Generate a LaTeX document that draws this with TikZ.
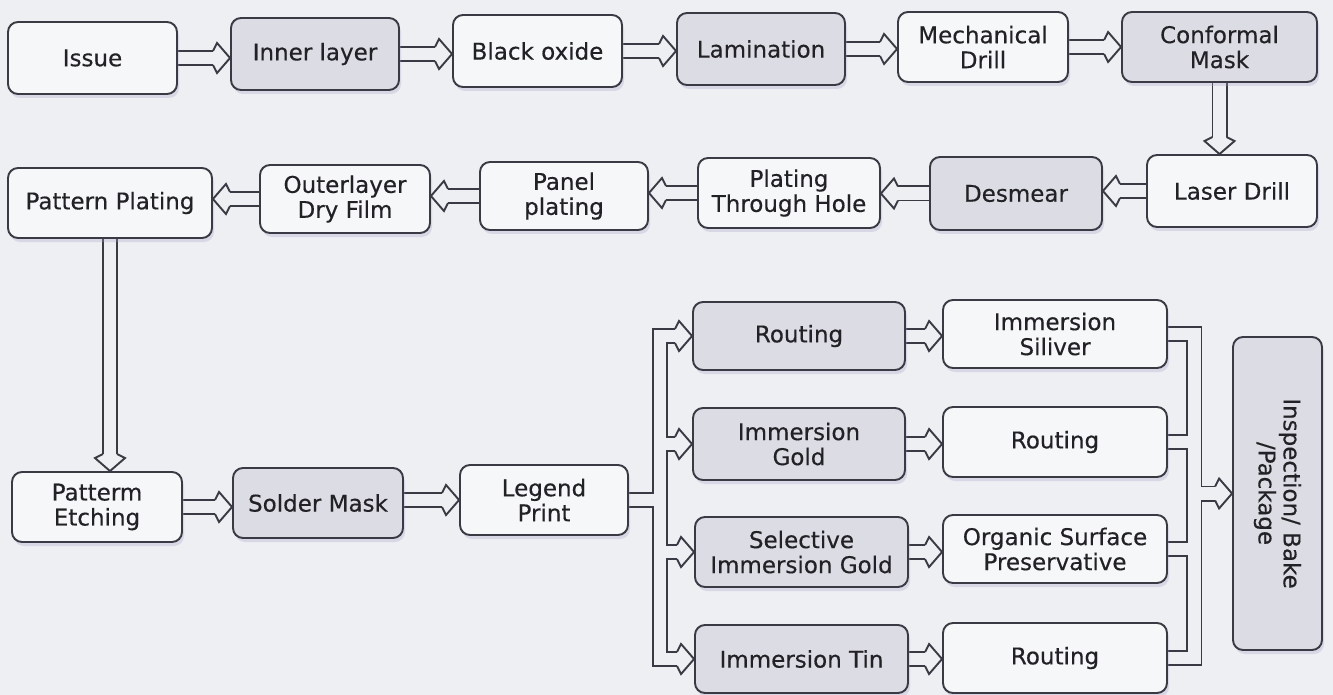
\documentclass[tikz,border=0pt]{standalone}
\usepackage{fontspec}
\setmainfont{DejaVu Sans}
\newfontfamily\boxfont[FakeBold=0.35]{DejaVu Sans}
\usetikzlibrary{calc,shadows}
\pgfdeclarelayer{bgl}\pgfdeclarelayer{pipes}\pgfdeclarelayer{fg}
\pgfsetlayers{bgl,pipes,main,fg}
\definecolor{bgc}{HTML}{EDEFF2}
\definecolor{wf}{HTML}{F6F7F8}
\definecolor{sf}{HTML}{DCDCE5}
\definecolor{lc}{HTML}{3A3A44}
\definecolor{tc}{HTML}{222226}
\definecolor{shc}{HTML}{A8A0C8}
\tikzset{
  box/.style={draw=lc, line width=1.9pt, rounded corners=10pt, align=center, text=tc,
    font=\boxfont\fontsize{23}{25}\selectfont, inner sep=0pt,
    drop shadow={shadow xshift=2pt, shadow yshift=-4pt, fill=shc, opacity=.3}},
  wbox/.style={box, fill=wf},
  sbox/.style={box, fill=sf},
  ahead/.pic={
    \fill[bgc] (-17,-7) -- (-13,-15) -- (0,0) -- (-13,15) -- (-17,7) -- cycle;
    \draw[lc, line width=1.9pt] (-17,-7) -- (-13,-15) -- (0,0) -- (-13,15) -- (-17,7);
  },
}
\newcommand\mypipes{%
  \draw[pp] (iss.east) -- ($(t1)+(-13,0)$);
  \draw[pp] (inner.east) -- ($(t2)+(-13,0)$);
  \draw[pp] (black.east) -- ($(t3)+(-13,0)$);
  \draw[pp] (lam.east) -- ($(t4)+(-13,0)$);
  \draw[pp] (mech.east) -- ($(t5)+(-13,0)$);
  \draw[pp] (conf.south) -- ($(t6)+(0,-13)$);
  \draw[pp] (laser.west) -- ($(t7)+(13,0)$);
  \draw[pp] (desmear.west) -- ($(t8)+(13,0)$);
  \draw[pp] (pth.west) -- ($(t9)+(13,0)$);
  \draw[pp] (panel.west) -- ($(t10)+(13,0)$);
  \draw[pp] (outer.west) -- ($(t11)+(13,0)$);
  \draw[pp] (pplat.south) -- ($(t12)+(0,-13)$);
  \draw[pp] (petch.east) -- ($(t13)+(-13,0)$);
  \draw[pp] (solder.east |- legend.west) -- ($(t14)+(-13,0)$);
  % left manifold
  \draw[pp] (legend.east) -- (lm);
  \draw[pp] ($(rout1.west)+(-13,0)$) -- (lm |- rout1.west) -- (lm |- itin.west) -- ($(itin.west)+(-13,0)$);
  \draw[pp] (lm |- igold.west) -- ($(igold.west)+(-13,0)$);
  \draw[pp] (lm |- sig.west) -- ($(sig.west)+(-13,0)$);
  % middle
  \draw[pp] (rout1.east) -- ($(m1)+(-13,0)$);
  \draw[pp] (igold.east) -- ($(m2)+(-13,0)$);
  \draw[pp] (sig.east) -- ($(m3)+(-13,0)$);
  \draw[pp] (itin.east) -- ($(m4)+(-13,0)$);
  % right manifold
  \draw[pp] (isil.east) -- (rm |- isil.east) -- (rm |- rout3.east) -- (rout3.east);
  \draw[pp] (rout2.east) -- (rm |- rout2.east);
  \draw[pp] (osp.east) -- (rm |- osp.east);
  \draw[pp] (rm |- insp.west) -- ($(insp.west)+(-13,0)$);
}
\begin{document}
\begin{tikzpicture}[x=1pt,y=-1pt]
\begin{pgfonlayer}{bgl}
\fill[bgc] (0,0) rectangle (1333,695);
\end{pgfonlayer}
\useasboundingbox (0,0) rectangle (1333,695);
% row 1
\node[wbox, minimum width=169pt, minimum height=72pt] (iss) at (92.5,58) {Issue};
\node[sbox, minimum width=168pt, minimum height=72pt] (inner) at (315,54) {Inner layer};
\node[wbox, minimum width=169pt, minimum height=72pt] (black) at (537.5,51) {Black oxide};
\node[sbox, minimum width=168pt, minimum height=72pt] (lam) at (761,49) {Lamination};
\node[wbox, minimum width=170pt, minimum height=70pt] (mech) at (983,47) {Mechanical\\Drill};
\node[sbox, minimum width=195pt, minimum height=70pt] (conf) at (1219.5,47) {Conformal\\Mask};
% row 2
\node[wbox, minimum width=170pt, minimum height=72pt] (laser) at (1232,191) {Laser Drill};
\node[sbox, minimum width=172pt, minimum height=73pt] (desmear) at (1016,193.5) {Desmear};
\node[wbox, minimum width=182pt, minimum height=70pt] (pth) at (789,193) {Plating\\Through Hole};
\node[wbox, minimum width=168pt, minimum height=68pt] (panel) at (564,196) {Panel\\plating};
\node[wbox, minimum width=170pt, minimum height=68pt] (outer) at (345,199) {Outerlayer\\Dry Film};
\node[wbox, minimum width=204pt, minimum height=70pt] (pplat) at (110,203) {Pattern Plating};
% row 3
\node[wbox, minimum width=170pt, minimum height=70pt] (petch) at (97,507) {Patterm\\Etching};
\node[sbox, minimum width=170pt, minimum height=70pt] (solder) at (318,503) {Solder Mask};
\node[wbox, minimum width=168pt, minimum height=70pt] (legend) at (544,500) {Legend\\Print};
% middle column
\node[sbox, minimum width=212pt, minimum height=68pt] (rout1) at (799,336) {Routing};
\node[sbox, minimum width=212pt, minimum height=72pt] (igold) at (799,444) {Immersion\\Gold};
\node[sbox, minimum width=213pt, minimum height=70pt] (sig) at (801.5,552) {Selective\\Immersion Gold};
\node[sbox, minimum width=213pt, minimum height=68pt] (itin) at (801.5,659) {Immersion Tin};
% right column
\node[wbox, minimum width=224pt, minimum height=68pt] (isil) at (1055,334) {Immersion\\Siliver};
\node[wbox, minimum width=224pt, minimum height=70pt] (rout2) at (1055,442) {Routing};
\node[wbox, minimum width=224pt, minimum height=68pt] (osp) at (1055,549) {Organic Surface\\Preservative};
\node[wbox, minimum width=224pt, minimum height=70pt] (rout3) at (1055,658) {Routing};
\node[sbox, minimum width=89pt, minimum height=313pt] (insp) at (1277.5,493.5) {};
\node[rotate=-90, align=center, text=tc, font=\boxfont\fontsize{23}{25}\selectfont] (insptxt) at (insp.center) {Inspection/ Bake\\/Package};
% arrow tips
\coordinate (t1) at (inner.west |- iss.east);
\coordinate (t2) at (black.west |- inner.east);
\coordinate (t3) at (lam.west |- black.east);
\coordinate (t4) at (mech.west |- lam.east);
\coordinate (t5) at (conf.west |- mech.east);
\coordinate (t6) at (conf.south |- laser.north);
\coordinate (t7) at (desmear.east |- laser.west);
\coordinate (t8) at (pth.east |- desmear.west);
\coordinate (t9) at (panel.east |- pth.west);
\coordinate (t10) at (outer.east |- panel.west);
\coordinate (t11) at (pplat.east |- outer.west);
\coordinate (t12) at (pplat.south |- petch.north);
\coordinate (t13) at (solder.west |- petch.east);
\coordinate (t14) at (legend.west);
\coordinate (lm) at ($(legend.east)+(31,0)$);
\coordinate (m1) at (isil.west |- rout1.east);
\coordinate (m2) at (rout2.west |- igold.east);
\coordinate (m3) at (osp.west |- sig.east);
\coordinate (m4) at (rout3.west |- itin.east);
\coordinate (rm) at ($(isil.east)+(26.5,0)$);
% pipes
\begin{pgfonlayer}{pipes}
\tikzset{pp/.style={draw=lc, line width=16pt}}
\mypipes
\tikzset{pp/.style={draw=bgc, line width=12.2pt}}
\mypipes
\end{pgfonlayer}
% heads
\begin{pgfonlayer}{fg}
\foreach \t in {t1,t2,t3,t4,t5,t13,t14,m1,m2,m3,m4} {\pic at (\t) {ahead};}
\foreach \t in {t7,t8,t9,t10,t11} {\pic[rotate=180] at (\t) {ahead};}
\foreach \t in {t6,t12} {\pic[rotate=-90] at (\t) {ahead};}
\pic at (rout1.west) {ahead};
\pic at (igold.west) {ahead};
\pic at (sig.west) {ahead};
\pic at (itin.west) {ahead};
\pic at (insp.west) {ahead};
\end{pgfonlayer}
\end{tikzpicture}
\end{document}
